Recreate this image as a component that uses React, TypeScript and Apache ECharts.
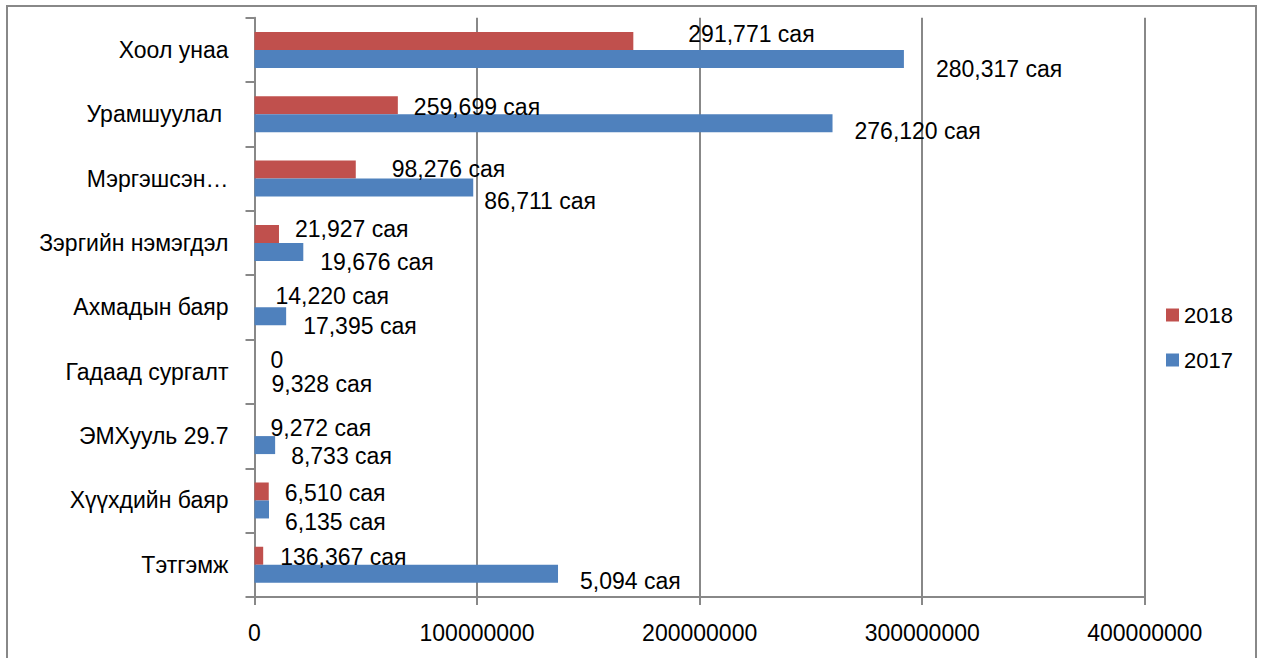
import React, { useEffect, useRef } from "react";
import * as echarts from "echarts";

const categories = [
  "Хоол унаа",
  "Урамшуулал\u00a0",
  "Мэргэшсэн…",
  "Зэргийн нэмэгдэл",
  "Ахмадын баяр",
  "Гадаад сургалт",
  "ЭМХууль 29.7",
  "Хүүхдийн баяр",
  "Тэтгэмж",
];

const seriesNames = ["2018", "2017"];

const values2018 = [170200000, 64400000, 45500000, 11000000, 0, 0, 0, 6400000, 3900000];
const values2017 = [291771000, 259699000, 98276000, 21927000, 14220000, 0, 9272000, 6510000, 136367000];

const labels2018 = [
  "291,771 сая",
  "259,699 сая",
  "98,276 сая",
  "21,927 сая",
  "14,220 сая",
  "0",
  "9,272 сая",
  "6,510 сая",
  "136,367 сая",
];
const labels2017 = [
  "280,317 сая",
  "276,120 сая",
  "86,711 сая",
  "19,676 сая",
  "17,395 сая",
  "9,328 сая",
  "8,733 сая",
  "6,135 сая",
  "5,094 сая",
];

const xTicks = [0, 100000000, 200000000, 300000000, 400000000];

// label nudges (px) relative to the default outside-right placement
const shift2018: [number, number][] = [[39, -7], [0, 2], [20, -1], [0, -5], [5, -2], [0, -3], [0, 1], [0, 2], [1, 1]];
const shift2017: [number, number][] = [[16, 10], [6, 8], [-5, 13], [1, 10], [1, 10], [1, 3], [0, 11], [0, 13], [6, 7]];

const FONT = "'Liberation Sans', Arial, sans-serif";
const GRAY = "#888888";
const RED = "#C0504D";
const BLUE = "#4F81BD";

export default function App() {
  const ref = useRef<HTMLDivElement>(null);
  useEffect(() => {
    if (!ref.current) return;
    const chart = echarts.init(ref.current, null, { renderer: "svg" });
    const mk = (vals: number[], labels: string[], shifts: [number, number][]) =>
      vals.map((v, i) => ({
        value: v,
        label: { offset: shifts[i], formatter: () => labels[i] },
      }));
    chart.setOption({
      animation: false,
      backgroundColor: "#ffffff",
      textStyle: { fontFamily: FONT },
      graphic: [
        {
          type: "rect",
          shape: { x: 7, y: 6, width: 1249, height: 720 },
          style: { fill: "none", stroke: GRAY, lineWidth: 2 },
          silent: true,
          z: -1,
        },
      ],
      legend: {
        orient: "vertical",
        left: 1161,
        top: 299,
        itemWidth: 13,
        itemHeight: 13,
        itemGap: 23,
        icon: "rect",
        data: seriesNames,
        textStyle: { fontSize: 22, color: "#000", fontFamily: FONT, lineHeight: 22 },
      },
      grid: {
        left: 254.5,
        right: 1261 - 1144.8,
        top: 17.7,
        bottom: 658 - 597,
        containLabel: false,
        outerBoundsMode: "none",
      },
      xAxis: {
        type: "value",
        min: xTicks[0],
        max: xTicks[xTicks.length - 1],
        interval: xTicks[1] - xTicks[0],
        axisLine: { show: true, lineStyle: { color: GRAY, width: 2 } },
        axisTick: { show: true, length: 8, lineStyle: { color: GRAY, width: 2 } },
        splitLine: { show: true, lineStyle: { color: GRAY, width: 2 } },
        axisLabel: {
          fontSize: 23,
          color: "#000",
          fontFamily: FONT,
          margin: 24,
          formatter: (v: number) => String(v),
        },
      },
      yAxis: {
        type: "category",
        inverse: true,
        data: categories,
        axisLine: { show: true, lineStyle: { color: GRAY, width: 2 } },
        axisTick: { show: true, length: 9, lineStyle: { color: GRAY, width: 2 } },
        axisLabel: { fontSize: 23, color: "#000", fontFamily: FONT, margin: 26 },
      },
      series: [
        {
          name: seriesNames[0],
          type: "bar",
          barWidth: 18,
          barGap: "0%",
          itemStyle: { color: RED },
          label: { show: true, position: "right", distance: 16, fontSize: 23, color: "#000", fontFamily: FONT },
          data: mk(values2018, labels2018, shift2018),
        },
        {
          name: seriesNames[1],
          type: "bar",
          barWidth: 18,
          barGap: "0%",
          itemStyle: { color: BLUE },
          label: { show: true, position: "right", distance: 16, fontSize: 23, color: "#000", fontFamily: FONT },
          data: mk(values2017, labels2017, shift2017),
        },
      ],
    });
    return () => chart.dispose();
  }, []);
  return (
    <div
      ref={ref}
      style={{ position: "fixed", left: 0, top: 0, width: 1261, height: 658, background: "#fff" }}
    />
  );
}
